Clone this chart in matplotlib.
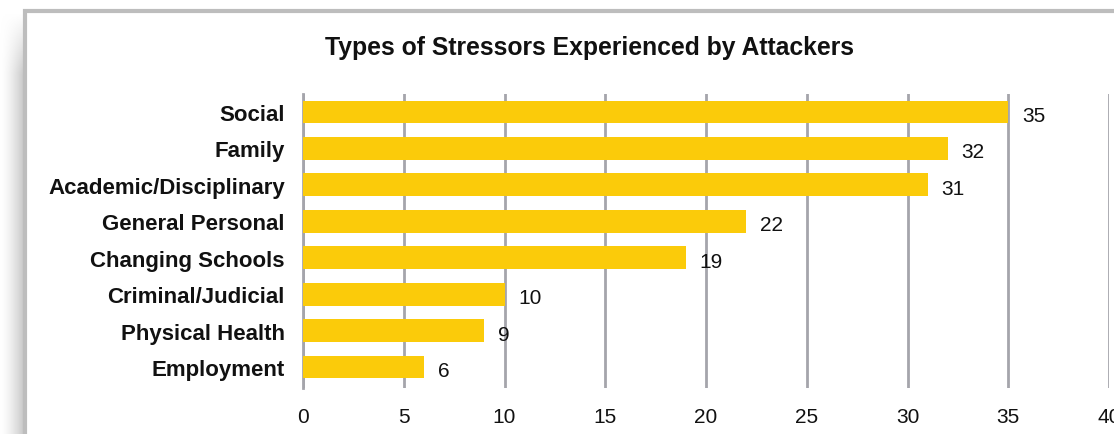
import numpy as np
import matplotlib.pyplot as plt
from matplotlib.colors import LinearSegmentedColormap
from matplotlib.patches import Rectangle

categories = ['Social', 'Family', 'Academic/Disciplinary', 'General Personal',
              'Changing Schools', 'Criminal/Judicial', 'Physical Health', 'Employment']
counts = [35, 32, 31, 22, 19, 10, 9, 6]
x_ticks = [0, 5, 10, 15, 20, 25, 30, 35, 40]

BAR_COLOR = '#fbcb0a'
GRID_COLOR = '#a5a5ab'
LABEL_FONT = ['Liberation Sans Narrow', 'Liberation Sans', 'DejaVu Sans']
NUM_FONT = ['Liberation Sans', 'DejaVu Sans']

fig = plt.figure(figsize=(11.14, 4.35), dpi=100)
fig.patch.set_facecolor('white')

# soft drop shadow on the left of the frame, fading in from the top
shade = LinearSegmentedColormap.from_list('shade', ['#ffffff', '#c4c4c4'])
shadow = fig.add_axes([0, 0, 25 / 1114, 1 - 14 / 435], zorder=0)
hx = np.linspace(0, 1, 60)[None, :] ** 1.5
vy = np.clip(np.linspace(0, 1, 200)[:, None] * 7, 0, 1)
shadow.imshow(hx * vy, cmap=shade, vmin=0, vmax=1, aspect='auto',
              extent=[0, 1, 0, 1], origin='upper')
shadow.axis('off')

# grey frame, cut off by the right and bottom edges
fig.patches.append(Rectangle((25 / 1114, -0.2), 1.2, 1.2 - 12 / 435,
                             transform=fig.transFigure, facecolor='white',
                             edgecolor='#bdbdbd', linewidth=3, zorder=1))

ax = fig.add_axes([303 / 1114, 1 - 389 / 435, 806 / 1114, (389 - 95) / 435], zorder=2)
ax.patch.set_alpha(0)

y = np.arange(len(categories))
ax.barh(y, counts, height=0.63, color=BAR_COLOR, zorder=3)
for yi, c in zip(y, counts):
    ax.annotate(str(c), (c, yi), xytext=(10, -2.5), textcoords='offset points',
                va='center', ha='left', fontsize=15, family=NUM_FONT,
                color='#111111')

ax.set_xlim(0, 40)
ax.set_ylim(len(categories) - 1 + 0.576, -0.494)
ax.set_xticks(x_ticks)
ax.set_xticklabels([str(t) for t in x_ticks], fontsize=15, family=NUM_FONT, color='#111111')
ax.set_yticks(y)
ax.set_yticklabels(categories, fontsize=16, fontweight='bold', family=LABEL_FONT,
                   color='#111111')
ax.tick_params(axis='both', length=0)
ax.tick_params(axis='x', pad=14)
ax.tick_params(axis='y', pad=13)

ax.grid(axis='x', color=GRID_COLOR, linewidth=2, zorder=1)
for s in ['top', 'right', 'bottom']:
    ax.spines[s].set_visible(False)
ax.spines['left'].set_color(GRID_COLOR)
ax.spines['left'].set_linewidth(2)

fig.text(0.529, 1 - 48 / 435, 'Types of Stressors Experienced by Attackers',
         ha='center', va='center', fontsize=17.8, fontweight='bold',
         family=LABEL_FONT, color='#111111')

fig.savefig('out.png', dpi=100)
